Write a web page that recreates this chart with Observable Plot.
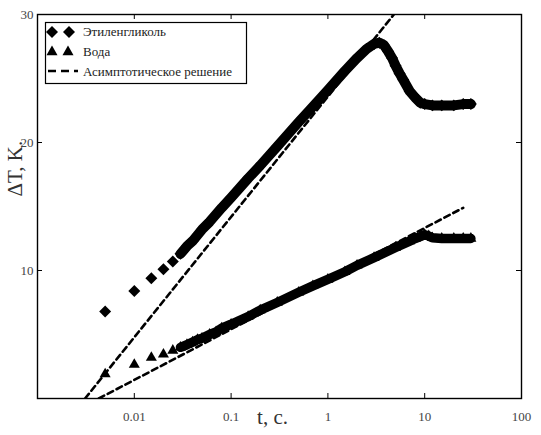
<!DOCTYPE html>
<html><head><meta charset="utf-8">
<script src="https://cdn.jsdelivr.net/npm/d3@7"></script>
<script src="https://cdn.jsdelivr.net/npm/@observablehq/plot@0.6"></script>
<style>
body{margin:0;background:#fff;}
#wrap{position:relative;width:541px;height:435px;}
#legend{position:absolute;left:0;top:0;pointer-events:none;}
</style></head><body><div id="wrap"></div>
<script>
// Ethylene glycol (diamonds)
const glycolT  = [0.005,0.01,0.015,0.02,0.025,0.03,0.035,0.04,0.05,0.06,0.08,0.1,0.15,0.2,0.3,0.5,0.7,1,1.5,2,2.5,3,3.4,3.8,4.2,4.6,5,5.5,6,7,8,9,10,12,15,20,25,30];
const glycolDT = [6.8,8.4,9.4,10.1,10.7,11.3,11.9,12.3,13.2,13.8,14.9,15.7,17.2,18.2,19.7,21.6,22.8,24.1,25.6,26.6,27.3,27.7,27.8,27.6,27.1,26.6,26.0,25.4,24.9,24.0,23.5,23.1,23.0,22.9,22.9,22.9,23.0,23.0];
// Water (triangles)
const waterT  = [0.005,0.01,0.015,0.02,0.025,0.03,0.035,0.04,0.045,0.05,0.06,0.07,0.08,0.1,0.15,0.2,0.3,0.5,0.7,1,1.5,2,3,5,7,8,9,10,11,12,15,20,25,30];
const waterDT = [1.9,2.65,3.2,3.45,3.75,4.0,4.2,4.4,4.6,4.7,5.0,5.2,5.5,5.8,6.4,6.9,7.5,8.3,8.8,9.3,9.9,10.4,11.0,11.8,12.3,12.5,12.65,12.8,12.7,12.55,12.5,12.5,12.5,12.5];
// Asymptotic solutions (dashed)
const asymUpperT  = [0.0031, 4.8];
const asymUpperDT = [0, 30];
const asymLowerT  = [0.0043, 25];
const asymLowerDT = [0, 14.9];

const xTicks = [0.01, 0.1, 1, 10, 100];
const xTickLabels = ["0.01", "0.1", "1", "10", "100"];
const yTicks = [10, 20, 30];
const seriesNames = ["Этиленгликоль", "Вода", "Асимптотическое решение"];
const xLabel = "t, c.";
const yLabel = "ΔT, K.";
const bandStart = 0.03;

const glycol = glycolT.map((t, i) => ({t, v: glycolDT[i]}));
const water = waterT.map((t, i) => ({t, v: waterDT[i]}));
const asym = [
  ...asymUpperT.map((t, i) => ({t, v: asymUpperDT[i], s: "upper"})),
  ...asymLowerT.map((t, i) => ({t, v: asymLowerDT[i], s: "lower"}))
];

const font = "Liberation Serif, Times New Roman, serif";

const chart = Plot.plot({
  width: 541, height: 435,
  marginLeft: 37, marginRight: 20, marginTop: 14, marginBottom: 37,
  style: {fontFamily: font, fontSize: "13px", color: "#444", background: "white"},
  x: {type: "log", domain: [0.001, 100]},
  y: {domain: [0, 30]},
  marks: [
    Plot.line(glycol.filter(d => d.t >= bandStart), {x: "t", y: "v", stroke: "black", strokeWidth: 10, strokeLinejoin: "round"}),
    Plot.dot(glycol, {x: "t", y: "v", symbol: "diamond2", r: 5.4, fill: "black"}),
    Plot.line(water.filter(d => d.t >= bandStart), {x: "t", y: "v", stroke: "black", strokeWidth: 9.5, strokeLinejoin: "round"}),
    Plot.dot(water, {x: "t", y: "v", symbol: "triangle", r: 4.1, fill: "black"}),
    Plot.line(asym, {x: "t", y: "v", z: "s", stroke: "black", strokeWidth: 2.6, strokeDasharray: "6,4", clip: true}),
    Plot.frame({stroke: "black", strokeWidth: 1.4}),
    Plot.tickX(xTicks, {x: d => d, stroke: "black", insetTop: 379}),
    Plot.tickX(xTicks, {x: d => d, stroke: "black", insetBottom: 379}),
    Plot.tickY(yTicks, {y: d => d, stroke: "black", insetRight: 479}),
    Plot.tickY(yTicks, {y: d => d, stroke: "black", insetLeft: 479}),
    Plot.axisX({ticks: xTicks, tickFormat: d => xTickLabels[xTicks.indexOf(d)], tickSize: 0, tickPadding: 13, label: null, fill: "#444", fontFamily: font}),
    Plot.axisY({ticks: yTicks, tickFormat: d => String(d), tickSize: 0, tickPadding: 4, label: null, fill: "#444", fontFamily: font}),
    Plot.text([xLabel], {text: d => d, frameAnchor: "bottom", dx: -7, dy: 25, fontSize: 21, fill: "#333", fontFamily: font}),
    Plot.text([yLabel], {text: d => d, frameAnchor: "left", rotate: -90, dx: -22, dy: -10, fontSize: 21, fill: "#333", fontFamily: font})
  ]
});

const wrap = document.getElementById("wrap");
wrap.appendChild(chart);

// Legend
const ns = "http://www.w3.org/2000/svg";
const lg = document.createElementNS(ns, "svg");
lg.setAttribute("id", "legend");
lg.setAttribute("width", 541);
lg.setAttribute("height", 435);
const diamond = d3.symbol(d3.symbolDiamond2, Math.PI * 5.4 * 5.4)();
const tri = d3.symbol(d3.symbolTriangle, Math.PI * 4.1 * 4.1)();
lg.innerHTML = `
  <rect x="45.5" y="22.5" width="201" height="61" fill="white" stroke="black" stroke-width="1.2"/>
  <path d="${diamond}" transform="translate(52,32)" fill="black"/>
  <path d="${diamond}" transform="translate(69,32)" fill="black"/>
  <path d="${tri}" transform="translate(52,52)" fill="black"/>
  <path d="${tri}" transform="translate(68,52)" fill="black"/>
  <line x1="48" y1="71" x2="78" y2="71" stroke="black" stroke-width="2.6" stroke-dasharray="8,5"/>
  <g font-family="${font}" font-size="13" fill="#222" dominant-baseline="central">
    <text x="83" y="31">${seriesNames[0]}</text>
    <text x="83" y="51">${seriesNames[1]}</text>
    <text x="83" y="71">${seriesNames[2]}</text>
  </g>`;
wrap.appendChild(lg);
</script></body></html>
